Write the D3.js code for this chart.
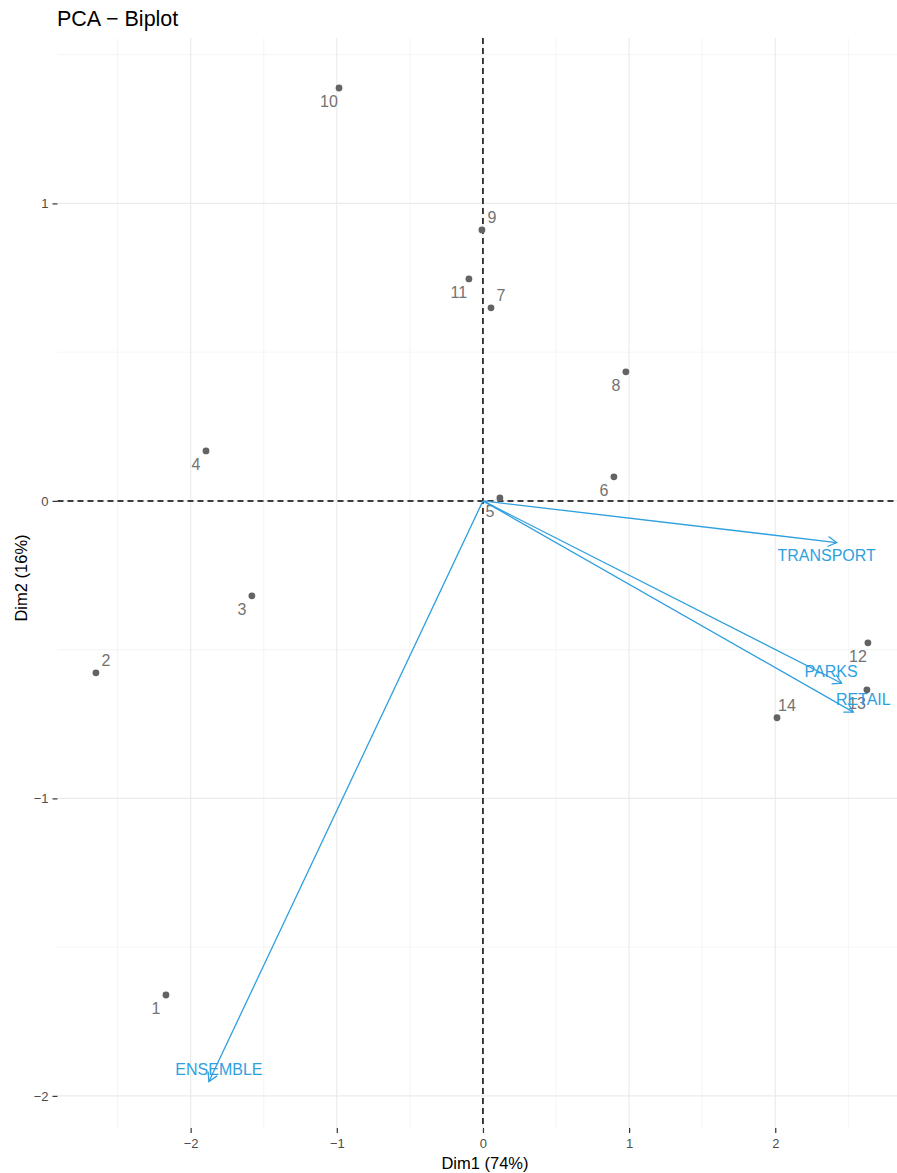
<!DOCTYPE html>
<html>
<head>
<meta charset="utf-8">
<script src="https://cdn.jsdelivr.net/npm/d3@7"></script>
<style>
  html, body { margin: 0; padding: 0; background: #ffffff; }
  svg { display: block; font-family: "Liberation Sans", Arial, Helvetica, sans-serif; }
</style>
</head>
<body>
<svg id="chart" width="897" height="1173"></svg>
<script>
// Individuals: coordinates on the first two principal components
const indNames = ["1", "2", "3", "4", "5", "6", "7", "8", "9", "10", "11", "12", "13", "14"];
const indDim1 = [-2.169, -2.648, -1.581, -1.895, 0.116, 0.896, 0.055, 0.978, -0.007, -0.985, -0.096, 2.634, 2.627, 2.012];
const indDim2 = [-1.661, -0.578, -0.319, 0.168, 0.010, 0.081, 0.649, 0.434, 0.911, 1.388, 0.746, -0.477, -0.635, -0.729];
// Which side of each point its label sits on
const indLabelSide = ["sw", "ne", "sw", "sw", "sw", "sw", "ne", "sw", "ne", "sw", "sw", "sw", "sw", "ne"];

// Variables: loading arrows
const varNames = ["TRANSPORT", "PARKS", "RETAIL", "ENSEMBLE"];
const varDim1 = [2.420, 2.454, 2.534, -1.875];
const varDim2 = [-0.140, -0.613, -0.710, -1.952];
const varLabelSide = ["sw", "nw", "ne", "ne"];

// Axes
const xTicks = [-2, -1, 0, 1, 2];
const yTicks = [-2, -1, 0, 1];
const xMinor = [-2.5, -1.5, -0.5, 0.5, 1.5, 2.5];
const yMinor = [-1.5, -0.5, 0.5, 1.5];
const titleText = "PCA \u2212 Biplot";
const xTitle = "Dim1 (74%)";
const yTitle = "Dim2 (16%)";

const svg = d3.select("#chart");
const panel = { left: 57.5, right: 897, top: 38, bottom: 1128 };

const x = d3.scaleLinear().domain([-2.911, 2.833]).range([panel.left, panel.right]);
const y = d3.scaleLinear().domain([-2.108, 1.556]).range([panel.bottom, panel.top]);

const blue = "#2E9FDF";
const fmt = d => d3.format("d")(d).replace("-", "\u2212");

// Grid
const grid = svg.append("g");
grid.selectAll(".xminor").data(xMinor).join("line")
  .attr("x1", d => x(d)).attr("x2", d => x(d))
  .attr("y1", panel.top).attr("y2", panel.bottom)
  .attr("stroke", "#F2F2F2").attr("stroke-width", 0.8);
grid.selectAll(".yminor").data(yMinor).join("line")
  .attr("y1", d => y(d)).attr("y2", d => y(d))
  .attr("x1", panel.left).attr("x2", panel.right)
  .attr("stroke", "#F2F2F2").attr("stroke-width", 0.8);
grid.selectAll(".xmajor").data(xTicks).join("line")
  .attr("x1", d => x(d)).attr("x2", d => x(d))
  .attr("y1", panel.top).attr("y2", panel.bottom)
  .attr("stroke", "#EBEBEB").attr("stroke-width", 1.2);
grid.selectAll(".ymajor").data(yTicks).join("line")
  .attr("y1", d => y(d)).attr("y2", d => y(d))
  .attr("x1", panel.left).attr("x2", panel.right)
  .attr("stroke", "#EBEBEB").attr("stroke-width", 1.2);

// Axes with ticks
const xAxis = d3.axisBottom(x).tickValues(xTicks).tickFormat(fmt).tickSize(5).tickPadding(6);
const gx = svg.append("g").attr("transform", `translate(0,${panel.bottom})`).call(xAxis);
gx.select(".domain").remove();
gx.selectAll(".tick line").attr("stroke", "#333333").attr("stroke-width", 1.2);
gx.selectAll(".tick text").attr("fill", "#4D4D4D").attr("font-size", "13px")
  .attr("font-family", "Liberation Sans, Arial, sans-serif");

const yAxis = d3.axisLeft(y).tickValues(yTicks).tickFormat(fmt).tickSize(5).tickPadding(4);
const gy = svg.append("g").attr("transform", `translate(${panel.left},0)`).call(yAxis);
gy.select(".domain").remove();
gy.selectAll(".tick line").attr("stroke", "#333333").attr("stroke-width", 1.2);
gy.selectAll(".tick text").attr("fill", "#4D4D4D").attr("font-size", "13px")
  .attr("font-family", "Liberation Sans, Arial, sans-serif");

// Reference lines through the origin
svg.append("line")
  .attr("x1", panel.left).attr("x2", panel.right)
  .attr("y1", y(0)).attr("y2", y(0))
  .attr("stroke", "#000").attr("stroke-width", 1.5).attr("stroke-dasharray", "6,4");
svg.append("line")
  .attr("x1", x(0)).attr("x2", x(0))
  .attr("y1", panel.top).attr("y2", panel.bottom)
  .attr("stroke", "#000").attr("stroke-width", 1.5).attr("stroke-dasharray", "6,4");

// Label offsets by side
const offs = {
  ne: [10, -12.5],
  sw: [-10, 13],
  nw: [-10.5, -12.5],
  se: [10, 13]
};

// Individuals
const inds = indNames.map((n, i) => ({ n, a: indDim1[i], b: indDim2[i], side: indLabelSide[i] }));
svg.append("g").selectAll("circle").data(inds).join("circle")
  .attr("cx", d => x(d.a)).attr("cy", d => y(d.b)).attr("r", 3.4)
  .attr("fill", "#636363");
svg.append("g").selectAll("text").data(inds).join("text")
  .attr("x", d => x(d.a) + offs[d.side][0])
  .attr("y", d => y(d.b) + offs[d.side][1])
  .attr("dy", "0.36em")
  .attr("text-anchor", "middle")
  .attr("font-size", "16px")
  .attr("fill", "#737373")
  .text(d => d.n);

// Variable arrows
const vars = varNames.map((n, i) => ({ n, a: varDim1[i], b: varDim2[i], side: varLabelSide[i] }));
const ag = svg.append("g");
vars.forEach(v => {
  const x0 = x(0), y0 = y(0), x1 = x(v.a), y1 = y(v.b);
  const ang = Math.atan2(y1 - y0, x1 - x0);
  const len = 10, spread = Math.PI / 6;
  ag.append("line")
    .attr("x1", x0).attr("y1", y0).attr("x2", x1).attr("y2", y1)
    .attr("stroke", blue).attr("stroke-width", 1.3);
  ag.append("path")
    .attr("d", `M${x1 - len * Math.cos(ang - spread)},${y1 - len * Math.sin(ang - spread)}L${x1},${y1}L${x1 - len * Math.cos(ang + spread)},${y1 - len * Math.sin(ang + spread)}`)
    .attr("fill", "none").attr("stroke", blue).attr("stroke-width", 1.3);
});
svg.append("g").selectAll("text").data(vars).join("text")
  .attr("x", d => x(d.a) + offs[d.side][0])
  .attr("y", d => y(d.b) + offs[d.side][1])
  .attr("dy", "0.36em")
  .attr("text-anchor", "middle")
  .attr("font-size", "16px")
  .attr("fill", blue)
  .text(d => d.n);

// Titles
svg.append("text").attr("x", 57).attr("y", 26)
  .attr("font-size", "21.5px").attr("fill", "#000").text(titleText);
svg.append("text").attr("x", 485).attr("y", 1169)
  .attr("text-anchor", "middle").attr("font-size", "16.5px").attr("fill", "#000").text(xTitle);
svg.append("text")
  .attr("transform", `translate(27,${(panel.top + panel.bottom) / 2 - 5}) rotate(-90)`)
  .attr("text-anchor", "middle").attr("font-size", "16.5px").attr("fill", "#000").text(yTitle);
</script>
</body>
</html>
